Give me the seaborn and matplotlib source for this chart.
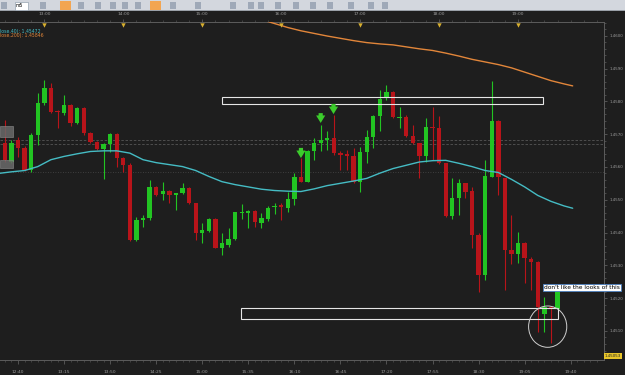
import numpy as np
import pandas as pd
import matplotlib
matplotlib.use("Agg")
import matplotlib.pyplot as plt
from matplotlib.patches import Rectangle, Ellipse
import seaborn as sns

# ---------------- data (5-minute candles) ----------------
start_time = pd.Timestamp("2011-01-01 12:30")
step = pd.Timedelta(minutes=5)

opens = [1.45672, 1.45616, 1.45682, 1.45657, 1.45591, 1.45697, 1.45794, 1.45840, 1.45771, 1.45765,
         1.45789, 1.45733, 1.45781, 1.45704, 1.45677, 1.45654, 1.45670, 1.45700, 1.45626, 1.45606,
         1.45377, 1.45438, 1.45443, 1.45540, 1.45516, 1.45526, 1.45514, 1.45519, 1.45537, 1.45489,
         1.45399, 1.45405, 1.45441, 1.45354, 1.45362, 1.45379, 1.45460, 1.45460, 1.45466, 1.45430,
         1.45441, 1.45477, 1.45482, 1.45476, 1.45502, 1.45570, 1.45555, 1.45649, 1.45674, 1.45682,
         1.45687, 1.45643, 1.45639, 1.45633, 1.45555, 1.45646, 1.45690, 1.45755, 1.45809, 1.45829,
         1.45748, 1.45751, 1.45694, 1.45672, 1.45633, 1.45723, 1.45718, 1.45611, 1.45450, 1.45504,
         1.45550, 1.45526, 1.45392, 1.45270, 1.45570, 1.45741, 1.45565, 1.45347, 1.45336, 1.45369,
         1.45319, 1.45311, 1.45153, 1.45174, 1.45166]
highs = [1.45743, 1.45682, 1.45692, 1.45664, 1.45703, 1.45824, 1.45865, 1.45855, 1.45774, 1.45819,
         1.45792, 1.45783, 1.45783, 1.45706, 1.45679, 1.45672, 1.45702, 1.45703, 1.45631, 1.45612,
         1.45447, 1.45453, 1.45560, 1.45542, 1.45555, 1.45530, 1.45521, 1.45551, 1.45539, 1.45490,
         1.45429, 1.45444, 1.45443, 1.45398, 1.45414, 1.45463, 1.45487, 1.45469, 1.45469, 1.45460,
         1.45481, 1.45489, 1.45491, 1.45524, 1.45580, 1.45626, 1.45652, 1.45687, 1.45728, 1.45709,
         1.45758, 1.45649, 1.45652, 1.45657, 1.45662, 1.45713, 1.45758, 1.45835, 1.45850, 1.45831,
         1.45784, 1.45758, 1.45728, 1.45673, 1.45748, 1.45784, 1.45755, 1.45612, 1.45565, 1.45562,
         1.45551, 1.45540, 1.45397, 1.45621, 1.45863, 1.45743, 1.45566, 1.45453, 1.45402, 1.45372,
         1.45326, 1.45313, 1.45204, 1.45174, 1.45231]
lows = [1.45615, 1.45612, 1.45631, 1.45587, 1.45584, 1.45667, 1.45789, 1.45763, 1.45718, 1.45758,
        1.45725, 1.45731, 1.45697, 1.45672, 1.45652, 1.45562, 1.45645, 1.45601, 1.45585, 1.45374,
        1.45374, 1.45418, 1.45438, 1.45512, 1.45499, 1.45489, 1.45469, 1.45517, 1.45487, 1.45377,
        1.45369, 1.45401, 1.45352, 1.45331, 1.45357, 1.45377, 1.45441, 1.45413, 1.45418, 1.45413,
        1.45436, 1.45456, 1.45438, 1.45463, 1.45484, 1.45553, 1.45553, 1.45621, 1.45649, 1.45652,
        1.45636, 1.45591, 1.45591, 1.45552, 1.45524, 1.45613, 1.45657, 1.45710, 1.45804, 1.45748,
        1.45718, 1.45692, 1.45670, 1.45566, 1.45616, 1.45621, 1.45609, 1.45447, 1.45440, 1.45453,
        1.45504, 1.45352, 1.45219, 1.45255, 1.45568, 1.45514, 1.45225, 1.45304, 1.45306, 1.45245,
        1.45225, 1.45097, 1.45097, 1.45062, 1.45164]
closes = [1.45621, 1.45672, 1.45657, 1.45591, 1.45697, 1.45794, 1.45840, 1.45768, 1.45766, 1.45789,
          1.45733, 1.45781, 1.45704, 1.45677, 1.45654, 1.45670, 1.45700, 1.45626, 1.45606, 1.45377,
          1.45438, 1.45443, 1.45540, 1.45514, 1.45526, 1.45514, 1.45519, 1.45537, 1.45489, 1.45397,
          1.45408, 1.45441, 1.45354, 1.45367, 1.45380, 1.45462, 1.45463, 1.45466, 1.45431, 1.45445,
          1.45476, 1.45482, 1.45479, 1.45502, 1.45570, 1.45555, 1.45649, 1.45674, 1.45682, 1.45687,
          1.45643, 1.45636, 1.45633, 1.45555, 1.45646, 1.45692, 1.45755, 1.45806, 1.45829, 1.45751,
          1.45751, 1.45694, 1.45672, 1.45633, 1.45723, 1.45718, 1.45611, 1.45450, 1.45504, 1.45550,
          1.45524, 1.45392, 1.45270, 1.45572, 1.45741, 1.45570, 1.45347, 1.45336, 1.45369, 1.45321,
          1.45311, 1.45174, 1.45174, 1.45166, 1.45225]

# moving averages (positions in candle units)
ma40_pos = [-1, 1, 3, 5, 7, 9, 11, 13, 15, 17, 19, 21, 23, 25, 27, 29, 31, 33, 35, 37, 39, 41, 43,
            45, 47, 49, 51, 53, 55, 57, 59, 61, 63, 65, 67, 69, 71, 73, 75, 77, 79, 81, 83, 85, 86.3]
ma40_val = [1.45580, 1.45585, 1.45589, 1.45601, 1.45622, 1.45632, 1.45640, 1.45647, 1.45649, 1.45649,
            1.45642, 1.45622, 1.45613, 1.45607, 1.45601, 1.45589, 1.45571, 1.45555, 1.45546, 1.45539,
            1.45532, 1.45528, 1.45526, 1.45525, 1.45533, 1.45543, 1.45550, 1.45557, 1.45565, 1.45581,
            1.45595, 1.45605, 1.45615, 1.45619, 1.45620, 1.45611, 1.45601, 1.45589, 1.45583, 1.45562,
            1.45539, 1.45513, 1.45495, 1.45481, 1.45474]
ma200_pos = [39, 41, 43, 45, 47, 49, 51, 53, 55, 57, 59, 61, 63, 65, 67, 69, 71, 73, 75, 77, 79, 81,
             83, 85, 86.3]
ma200_val = [1.46049, 1.46037, 1.46025, 1.46015, 1.46007, 1.45999, 1.45992, 1.45985, 1.45979, 1.45975,
             1.45972, 1.45966, 1.45960, 1.45955, 1.45947, 1.45938, 1.45928, 1.45920, 1.45912, 1.45902,
             1.45889, 1.45876, 1.45863, 1.45853, 1.45847]

legend_texts = ["lose,40): 1.45472", "lose,200): 1.45846"]
price_ticks = [1.4510, 1.4520, 1.4530, 1.4540, 1.4550, 1.4560, 1.4570, 1.4580, 1.4590, 1.4600]
bottom_labels = ["12:40", "13:15", "13:50", "14:25", "15:00", "15:35", "16:10", "16:45",
                 "17:20", "17:55", "18:30", "19:05", "19:40"]
top_labels = ["13:00", "14:00", "15:00", "16:00", "17:00", "18:00", "19:00"]

dashed_levels = [1.45682, 1.45670]
dotted_levels = [1.45585]
# drawn zones: (start pos, end pos, low price, high price)
zones = [(32.96, 81.83, 1.45791, 1.45812), (35.9, 84.0, 1.45135, 1.45171)]
arrow_pos = [45.0, 48.0, 49.95]
arrow_tip = [1.45627, 1.45734, 1.45761]
arrow_tail = [1.45658, 1.45764, 1.45792]
circle_center = (82.5, 1.45113)
note_text = "don't like the looks of this"
note_pos = (81.95, 1.45232)
price_label = "1.45053"

# ---------------- style ----------------
BG = "#1e1e1e"
GREEN = "#22c422"
RED = "#b8141a"
CYAN = "#45bcc4"
ORANGE = "#e2863a"
AXC = "#5c5c5c"
TXT = "#9a9a9a"

sns.set_theme(style="dark", rc={"axes.facecolor": BG, "figure.facecolor": BG})
plt.rcParams['font.family'] = ['DejaVu Sans']

fig = plt.figure(figsize=(6.25, 3.75), dpi=100, facecolor=BG)
ax = fig.add_axes([0, 0.04, 0.9664, 0.90133])
ax.set_facecolor(BG)

df = pd.DataFrame({"pos": np.arange(len(opens)), "open": opens, "high": highs,
                   "low": lows, "close": closes})
df["time"] = start_time + df["pos"] * step
up = df["close"] >= df["open"]
cols = np.where(up, GREEN, RED)

xlim = (-0.74, 91.06)
ylim = (1.450113, 1.460418)

# horizontal levels
for lv in dashed_levels:
    ax.axhline(lv, color="#555555", lw=0.6, ls=(0, (3, 2)), zorder=1)
for lv in dotted_levels:
    ax.axhline(lv, color="#4a4a4a", lw=0.6, ls=(0, (1, 2)), zorder=1)

# candles
ax.vlines(df["pos"], df["low"], df["high"], colors=cols, lw=0.8, zorder=2)
body_bottom = np.minimum(df["open"], df["close"])
body_h = np.maximum((df["close"] - df["open"]).abs(), 0.00004)
ax.bar(df["pos"], body_h, bottom=body_bottom, width=0.66, color=cols, linewidth=0, zorder=3)

# moving averages
sns.lineplot(x=ma40_pos, y=ma40_val, ax=ax, color=CYAN, lw=1.0, estimator=None, sort=False, zorder=4)
sns.lineplot(x=ma200_pos, y=ma200_val, ax=ax, color=ORANGE, lw=1.0, estimator=None, sort=False, zorder=4)

# zones
for x0, x1, p0, p1 in zones:
    ax.add_patch(Rectangle((x0, p0), x1 - x0, p1 - p0, fill=False, ec="#e6e6e6", lw=0.8, zorder=5))

# arrows
for xp, tip, tail in zip(arrow_pos, arrow_tip, arrow_tail):
    ax.annotate("", xy=(xp, tip), xytext=(xp, tail),
                arrowprops=dict(arrowstyle="simple,head_length=0.45,head_width=0.55,tail_width=0.25",
                                color="#3ccc2c", shrinkA=0, shrinkB=0, lw=0), zorder=6)

# circle
ax.add_patch(Ellipse(circle_center, 5.8, 0.00126, fill=False, ec="#d0d0d0", lw=0.7, zorder=6))

# note
ax.text(note_pos[0], note_pos[1], note_text, fontsize=4.2, color="black", ha="left", va="center",
        clip_on=False, zorder=8,
        bbox=dict(boxstyle="square,pad=0.15", fc="white", ec="#4a7fc0", lw=0.6))

# left gray price boxes
for p0, p1 in [(1.45691, 1.45725), (1.45597, 1.45621)]:
    ax.add_patch(Rectangle((xlim[0], p0), 1.19 - xlim[0], p1 - p0, fc="#6a6a6a", ec="#888888",
                           lw=0.5, alpha=0.85, zorder=7))

ax.set_xlim(*xlim)
ax.set_ylim(*ylim)

# axes styling
ax.spines["left"].set_visible(False)
for s in ["right", "top", "bottom"]:
    ax.spines[s].set_color(AXC)
    ax.spines[s].set_linewidth(0.7)

ax.yaxis.tick_right()
ax.set_yticks(price_ticks)
ax.set_yticklabels([f"{p:.4f}" for p in price_ticks])
ax.set_yticks(np.arange(1.4504, 1.4604, 0.0002), minor=True)
ax.tick_params(axis="y", which="major", colors=AXC, labelcolor=TXT, labelsize=2.9, length=2.5, width=0.6, pad=1.2)
ax.tick_params(axis="y", which="minor", colors=AXC, length=1.3, width=0.5)

bottom_pos = [(pd.Timestamp("2011-01-01 " + t) - start_time) / step for t in bottom_labels]
ax.set_xticks(bottom_pos)
ax.set_xticklabels(bottom_labels)
ax.set_xticks(np.arange(0, 91, 1), minor=True)
ax.tick_params(axis="x", which="major", colors=AXC, labelcolor=TXT, labelsize=3.2, length=3, width=0.6, pad=4)
ax.tick_params(axis="x", which="minor", colors=AXC, length=1.5, width=0.4)
ax.grid(False)
ax.set_xlabel("")
ax.set_ylabel("")

ax2 = ax.twiny()
ax2.set_xlim(*xlim)
top_pos = [(pd.Timestamp("2011-01-01 " + t) - start_time) / step for t in top_labels]
ax2.set_xticks(top_pos)
ax2.set_xticklabels(top_labels)
ax2.set_xticks(np.arange(0, 91, 2), minor=True)
ax2.tick_params(axis="x", which="major", colors=AXC, labelcolor=TXT, labelsize=3.2, length=2, width=0.6, pad=2)
ax2.tick_params(axis="x", which="minor", colors=AXC, length=1.2, width=0.4)
for s in ax2.spines.values():
    s.set_visible(False)
ax2.grid(False)
ax.scatter(top_pos, [0.992] * len(top_pos), marker="v", s=10, color="#d8b030",
           transform=ax.get_xaxis_transform(), clip_on=False, zorder=9, linewidths=0)

# legend-like texts
fig.text(0.0, 1 - 31.5 / 375, legend_texts[0], color=CYAN, fontsize=3.3, va="center", ha="left")
fig.text(0.0, 1 - 36.0 / 375, legend_texts[1], color=ORANGE, fontsize=3.3, va="center", ha="left")

# current price label
fig.text(605 / 625, 1 - 356 / 375, price_label, color="#222222", fontsize=2.9, va="center", ha="left",
         bbox=dict(boxstyle="square,pad=0.2", fc="#e8c52a", ec="none"))

# toolbar
H = 375.0
fig.patches.append(Rectangle((0, 1 - 11 / H), 1, 11 / H, transform=fig.transFigure,
                             fc="#d3d7de", ec="none", zorder=0))
fig.patches.append(Rectangle((0, 1 - 11 / H), 1, 0.6 / H, transform=fig.transFigure,
                             fc="#9aa0a8", ec="none", zorder=1))
fig.patches.append(Rectangle((15 / 625, 1 - 9.5 / H), 13 / 625, 8 / H, transform=fig.transFigure,
                             fc="white", ec="#8090a0", lw=0.4, zorder=1))
fig.text(16 / 625, 1 - 5.5 / H, "m5", fontsize=3.3, color="black", va="center", ha="left")
for xo in [60, 150]:
    fig.patches.append(Rectangle((xo / 625, 1 - 10 / H), 11 / 625, 9.5 / H, transform=fig.transFigure,
                                 fc="#f2a552", ec="none", zorder=1))
for xo in [1, 40, 78, 95, 110, 122, 135, 170, 195, 230, 248, 258, 275, 293, 310, 327, 348, 368, 382]:
    fig.patches.append(Rectangle((xo / 625, 1 - 8.5 / H), 6 / 625, 6 / H, transform=fig.transFigure,
                                 fc="#8a96a8", ec="none", alpha=0.7, zorder=1))

fig.savefig("out.png", dpi=100, facecolor=BG)
